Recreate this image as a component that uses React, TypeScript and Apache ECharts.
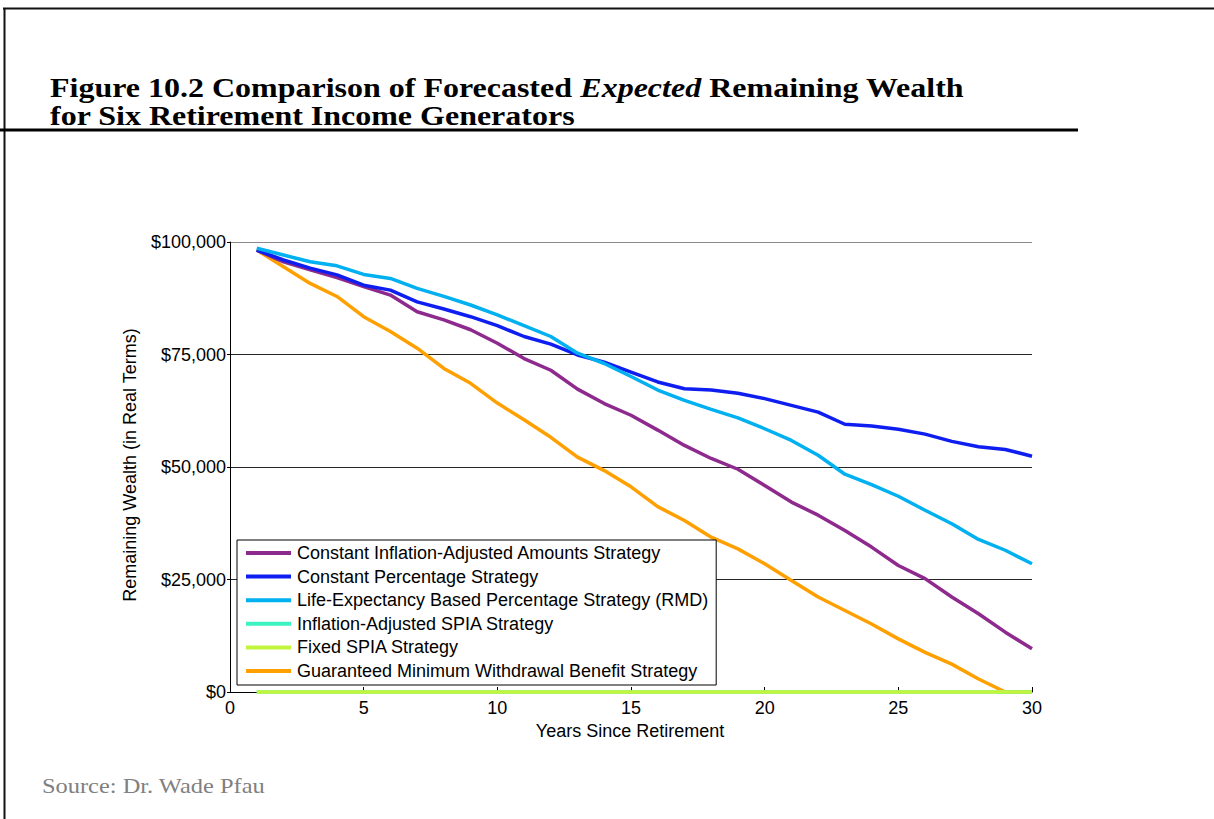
import React, { useEffect, useRef } from "react";
import * as echarts from "echarts";

const years = [1, 2, 3, 4, 5, 6, 7, 8, 9, 10, 11, 12, 13, 14, 15, 16, 17, 18, 19, 20, 21, 22, 23, 24, 25, 26, 27, 28, 29, 30];

const constantInflationAdjusted = [98200, 95600, 93800, 92100, 90100, 88200, 84500, 82700, 80500, 77500, 74100, 71500, 67300, 64100, 61500, 58200, 54800, 51900, 49500, 45900, 42200, 39300, 35900, 32200, 28100, 25200, 21100, 17400, 13300, 9600];
const constantPercentage = [98200, 96000, 94200, 92700, 90400, 89300, 86700, 85100, 83400, 81400, 79000, 77300, 74900, 73300, 71100, 68900, 67400, 67100, 66400, 65200, 63700, 62200, 59500, 59100, 58400, 57300, 55700, 54500, 53900, 52400];
const lifeExpectancyRMD = [98600, 97100, 95600, 94700, 92800, 91900, 89700, 87900, 86000, 83800, 81400, 79000, 75300, 73000, 70100, 67100, 64800, 62800, 60900, 58500, 55900, 52600, 48400, 46100, 43500, 40400, 37400, 33900, 31500, 28500];
const inflationAdjustedSPIA = [0, 0, 0, 0, 0, 0, 0, 0, 0, 0, 0, 0, 0, 0, 0, 0, 0, 0, 0, 0, 0, 0, 0, 0, 0, 0, 0, 0, 0, 0];
const fixedSPIA = [0, 0, 0, 0, 0, 0, 0, 0, 0, 0, 0, 0, 0, 0, 0, 0, 0, 0, 0, 0, 0, 0, 0, 0, 0, 0, 0, 0, 0, 0];
const gmwb = [98200, 94500, 90800, 87900, 83400, 80100, 76400, 71900, 68600, 64200, 60500, 56600, 52200, 49200, 45600, 41200, 38100, 34400, 31800, 28500, 24800, 21100, 18100, 15100, 11800, 8800, 6200, 2900, 0, 0];

const seriesNames = [
  "Constant Inflation-Adjusted Amounts Strategy",
  "Constant Percentage Strategy",
  "Life-Expectancy Based Percentage Strategy (RMD)",
  "Inflation-Adjusted SPIA Strategy",
  "Fixed SPIA Strategy",
  "Guaranteed Minimum Withdrawal Benefit Strategy",
];
const seriesValues = [constantInflationAdjusted, constantPercentage, lifeExpectancyRMD, inflationAdjustedSPIA, fixedSPIA, gmwb];
const seriesColors = ["#8E2A8E", "#0F1EF0", "#00B0F0", "#3CF2C0", "#C3F53C", "#FFA000"];
const seriesZ = [2, 2, 2, 3, 4, 1];

const xTicks = [0, 5, 10, 15, 20, 25, 30];
const yTicks = [0, 25000, 50000, 75000, 100000];

const titleLine1 = ["Figure 10.2 Comparison of Forecasted ", "Expected", " Remaining Wealth"];
const titleLine2 = "for Six Retirement Income Generators";
const sourceText = "Source: Dr. Wade Pfau";
const xAxisTitle = "Years Since Retirement";
const yAxisTitle = "Remaining Wealth (in Real Terms)";

const SANS = "'Liberation Sans', Arial, sans-serif";
const SERIF = "'Liberation Serif', 'Times New Roman', serif";
const FS = 18;

export default function App() {
  const ref = useRef<HTMLDivElement>(null);

  useEffect(() => {
    if (!ref.current) return;
    const chart = echarts.init(ref.current, undefined, { renderer: "svg" });
    const option: any = {
      animation: false,
      backgroundColor: "#ffffff",
      grid: { left: 230, right: 182, top: 242, bottom: 127, containLabel: false },
      xAxis: {
        type: "value",
        min: xTicks[0],
        max: xTicks[xTicks.length - 1],
        interval: 5,
        axisLine: { show: true, lineStyle: { color: "#000", width: 1 } },
        axisTick: { show: true, inside: true, length: 5, lineStyle: { color: "#000" } },
        axisLabel: { color: "#000", fontFamily: SANS, fontSize: FS, margin: 7 },
        splitLine: { show: false },
      },
      yAxis: {
        type: "value",
        min: yTicks[0],
        max: yTicks[yTicks.length - 1],
        interval: 25000,
        axisLine: { show: true, lineStyle: { color: "#000", width: 1 } },
        axisTick: { show: true, inside: false, length: 3, lineStyle: { color: "#000" } },
        axisLabel: {
          color: "#000",
          fontFamily: SANS,
          fontSize: FS,
          margin: 4,
          formatter: (v: number) => "$" + v.toLocaleString("en-US"),
        },
        splitLine: {
          show: true,
          lineStyle: { color: ["#000", "#262626", "#262626", "#262626", "#8a8a8a"], width: 1 },
        },
      },
      legend: {
        show: true,
        orient: "vertical",
        left: 237,
        top: 540,
        padding: [3, 8, 4, 9],
        itemGap: 3.6,
        itemWidth: 45,
        itemHeight: 4,
        icon: "rect",
        backgroundColor: "#fff",
        borderColor: "#000",
        borderWidth: 1,
        borderRadius: 0,
        data: seriesNames,
        textStyle: { color: "#000", fontFamily: SANS, fontSize: FS, lineHeight: 20, padding: [0, 0, 0, 1] },
        selectedMode: false,
      },
      series: seriesNames.map((name, i) => ({
        name,
        type: "line",
        data: years.map((yr, j) => [yr, seriesValues[i][j]]),
        showSymbol: false,
        symbol: "none",
        clip: false,
        z: seriesZ[i],
        color: seriesColors[i],
        lineStyle: { color: seriesColors[i], width: 3.5 },
      })),
      graphic: [
        { type: "line", shape: { x1: 3, y1: 8.5, x2: 1214, y2: 8.5 }, style: { stroke: "#111", lineWidth: 2 } },
        { type: "line", shape: { x1: 4.5, y1: 8, x2: 4.5, y2: 819 }, style: { stroke: "#111", lineWidth: 2 } },
        { type: "line", shape: { x1: 0, y1: 130, x2: 1078, y2: 130 }, style: { stroke: "#000", lineWidth: 3 } },
        {
          type: "text",
          x: 50,
          y: 88,
          scaleX: 1.143,
          style: {
            text: "{b|" + titleLine1[0] + "}{i|" + titleLine1[1] + "}{b|" + titleLine1[2] + "}",
            verticalAlign: "middle",
            align: "left",
            rich: {
              b: { fontFamily: SERIF, fontWeight: "bold", fontSize: 28, fill: "#000" },
              i: { fontFamily: SERIF, fontWeight: "bold", fontStyle: "italic", fontSize: 28, fill: "#000" },
            },
          },
        },
        {
          type: "text",
          x: 50,
          y: 116,
          scaleX: 1.143,
          style: {
            text: titleLine2,
            verticalAlign: "middle",
            align: "left",
            fontFamily: SERIF,
            fontWeight: "bold",
            fontSize: 28,
            fill: "#000",
          },
        },
        {
          type: "text",
          x: 42,
          y: 785,
          scaleX: 1.11,
          style: { text: sourceText, verticalAlign: "middle", align: "left", fontFamily: SERIF, fontSize: 22, fill: "#808080" },
        },
        {
          type: "text",
          x: 630,
          y: 731,
          style: { text: xAxisTitle, verticalAlign: "middle", align: "center", fontFamily: SANS, fontSize: FS, fill: "#000" },
        },
        {
          type: "text",
          x: 130,
          y: 465,
          rotation: Math.PI / 2,
          style: { text: yAxisTitle, verticalAlign: "middle", align: "center", fontFamily: SANS, fontSize: FS, fill: "#000" },
        },
      ],
    };
    chart.setOption(option);
    return () => chart.dispose();
  }, []);

  return (
    <div
      ref={ref}
      style={{ position: "fixed", left: 0, top: 0, width: 1214, height: 819, background: "#fff" }}
    />
  );
}
